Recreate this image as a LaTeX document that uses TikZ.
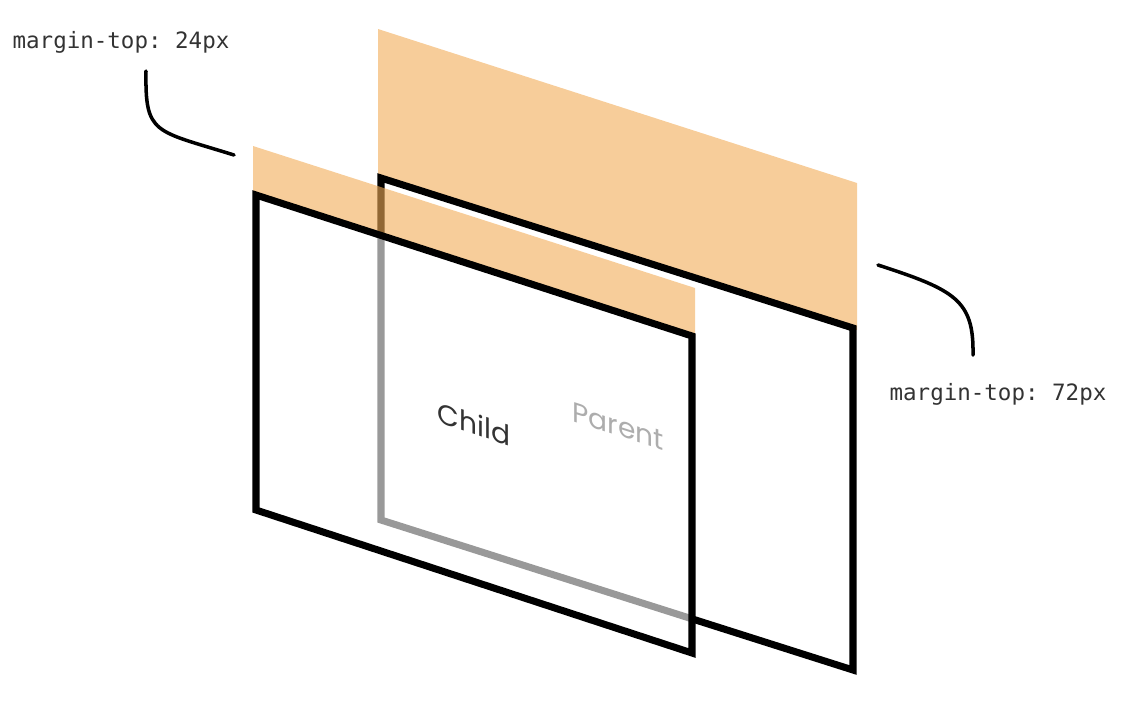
\documentclass[tikz,border=0pt]{standalone}
\usepackage{fontspec}
\setmonofont{DejaVu Sans Mono}
\newfontfamily\boxfont{Poppins}
\definecolor{margin}{HTML}{F7CD9A}
\definecolor{marginfg}{RGB}{242,172,87}
\definecolor{ink}{HTML}{333333}

\begin{document}
\begin{tikzpicture}[x=0.025cm,y=-0.025cm]
  \useasboundingbox (0,0) rectangle (1126,700);
  \coordinate (p1) at (381,178);
  \coordinate (p2) at (853,328);
  \coordinate (p3) at (853,670);
  \coordinate (p4) at (381,520);
  \coordinate (c1) at (256,195);
  \coordinate (c2) at (692,336);
  \coordinate (c3) at (692,653);
  \coordinate (c4) at (256,510);
  \fill[margin] (378,29) -- (857,183) -- (857,330) -- (378,176) -- cycle;
  \draw[line width=5pt] (p1) -- (p2) -- (p3) -- (p4) -- cycle;
  \node[font=\boxfont\fontsize{20}{24}\selectfont,text=ink,yslant=-0.32] (parent) at (618,426) {Parent};
  \fill[marginfg,opacity=0.6] (253,146) -- (695,288) -- (695,337) -- (253,196) -- cycle;
  \fill[white,opacity=0.6] (c1) -- (c2) -- (c3) -- (c4) -- cycle;
  \draw[line width=5pt] (c1) -- (c2) -- (c3) -- (c4) -- cycle;
  \node[font=\boxfont\fontsize{20}{24}\selectfont,text=ink,yslant=-0.32] (child) at (474,424) {Child};
  \node[font=\ttfamily\fontsize{16}{19}\selectfont,text=ink] (top) at (121,42) {margin-top: 24px};
  \node[font=\ttfamily\fontsize{16}{19}\selectfont,text=ink] (bottom) at (998,394) {margin-top: 72px};
  \coordinate (t1) at (146,71);
  \coordinate (t2) at (234,155);
  \coordinate (b1) at (878,265);
  \coordinate (b2) at (973,355);
  \draw[line width=2.5pt,line cap=round] (t1) .. controls (145,135) and (154,130) .. (t2);
  \draw[line width=2.5pt,line cap=round] (b1) .. controls (955,290) and (974,300) .. (b2);
\end{tikzpicture}
\end{document}
